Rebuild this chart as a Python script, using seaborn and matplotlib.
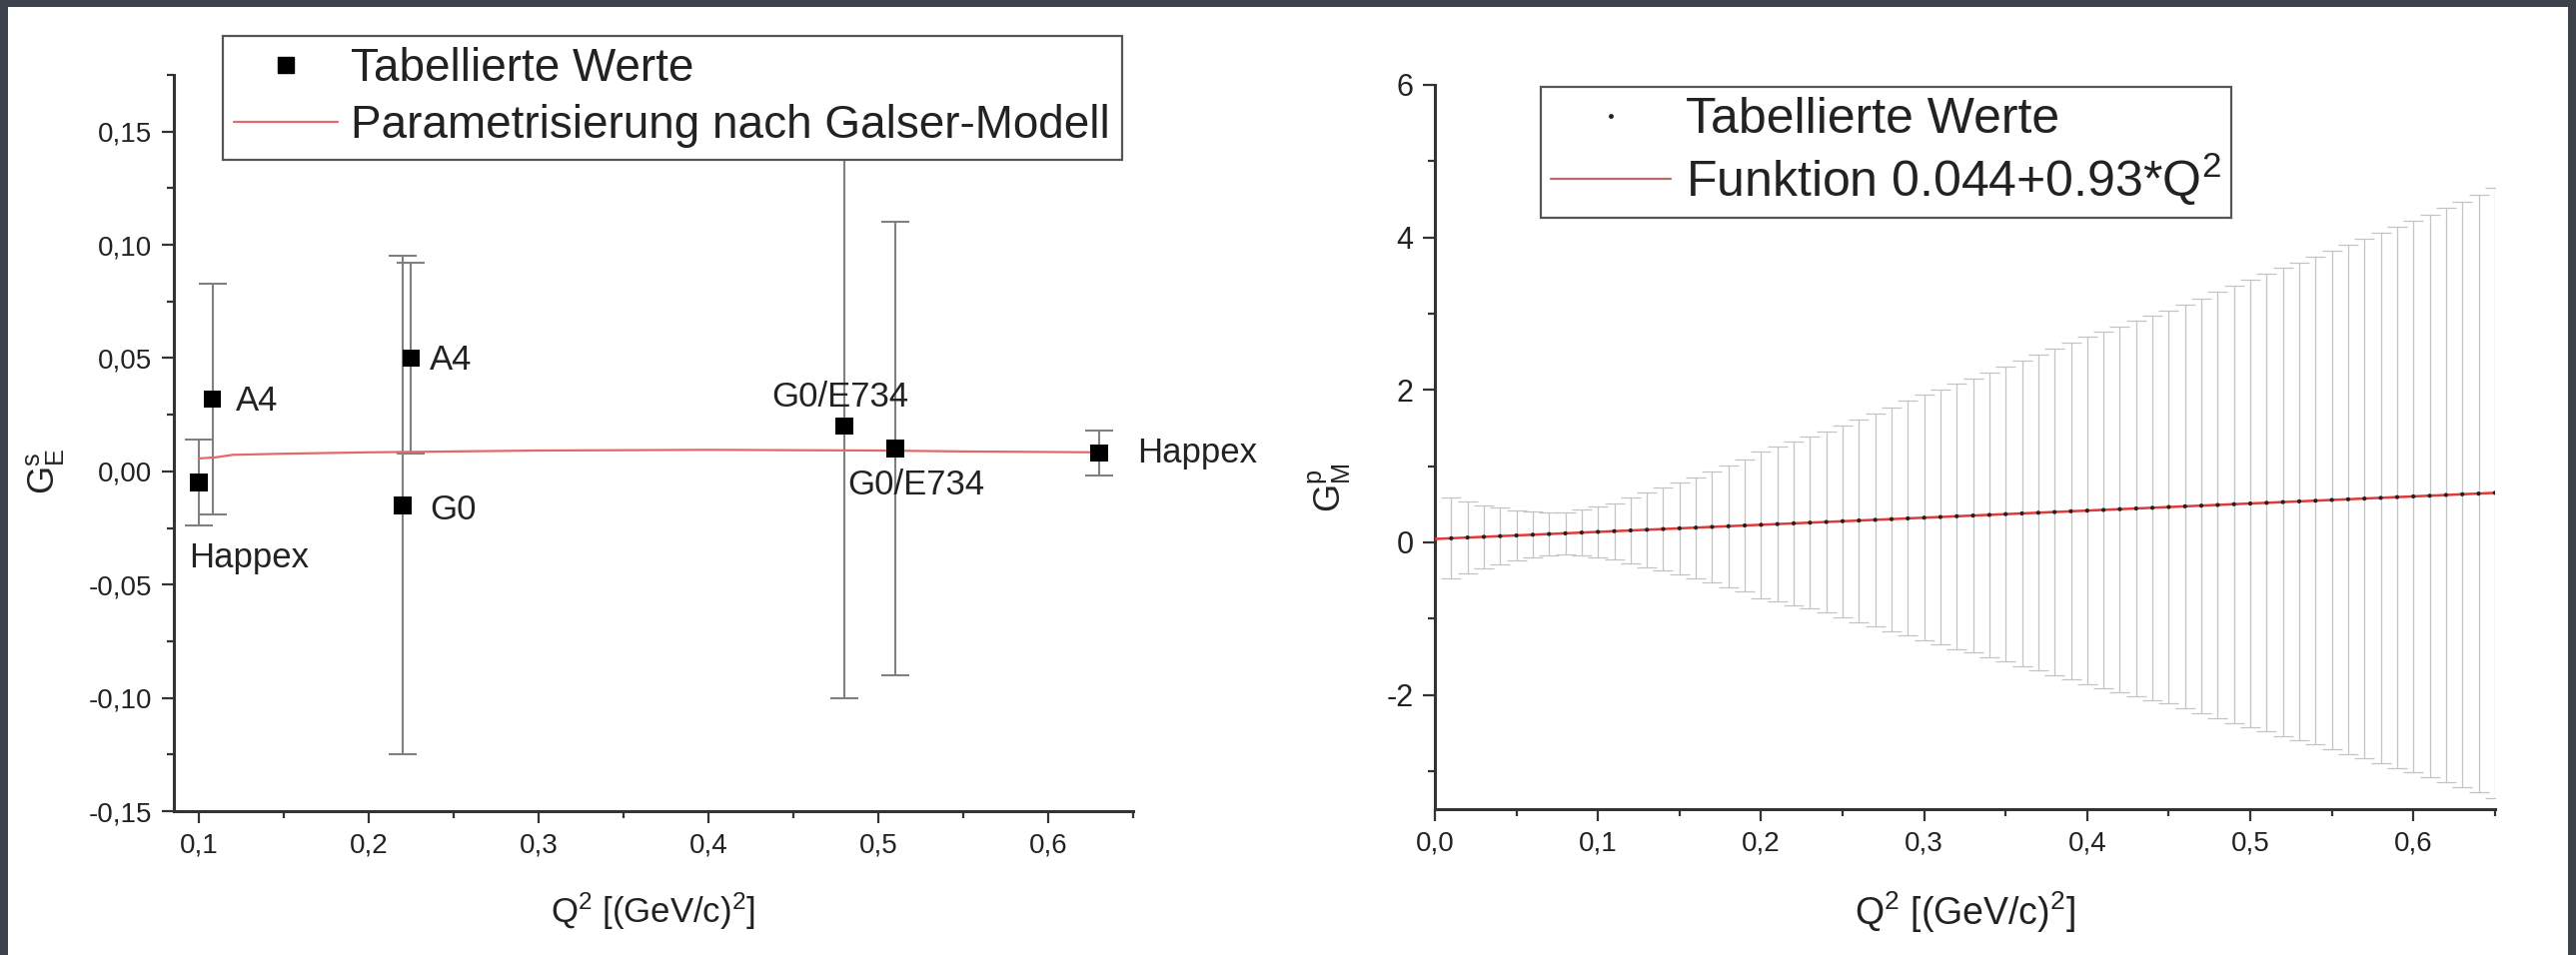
import matplotlib
matplotlib.use("Agg")
import matplotlib.pyplot as plt
from matplotlib.lines import Line2D
from matplotlib.patches import Rectangle
from matplotlib.ticker import MultipleLocator, FuncFormatter
import seaborn as sns

# ---------------- left panel: strange electric form factor ----------------
ge_q2 = [0.100, 0.108, 0.220, 0.225, 0.480, 0.510, 0.630]
ge_val = [-0.005, 0.032, -0.015, 0.050, 0.020, 0.010, 0.008]
ge_err = [0.019, 0.051, 0.110, 0.042, 0.120, 0.100, 0.010]
ge_exp = ["Happex", "A4", "G0", "A4", "G0/E734", "G0/E734", "Happex"]
ge_lab_x = [0.094, 0.122, 0.236, 0.236, 0.437, 0.482, 0.6525]
ge_lab_y = [-0.038, 0.031, -0.017, 0.049, 0.033, -0.006, 0.0083]

galser_q2 = [0.10, 0.11, 0.12, 0.15, 0.20, 0.30, 0.40, 0.50, 0.55, 0.63]
galser_val = [0.0057, 0.0062, 0.0073, 0.0078, 0.0084, 0.0092, 0.0095, 0.0092, 0.0088, 0.0084]

# ---------------- right panel: magnetic form factor ----------------
gm_q2 = [0.01, 0.02, 0.03, 0.04, 0.05, 0.06, 0.07, 0.08, 0.09, 0.10,
         0.11, 0.12, 0.13, 0.14, 0.15, 0.16, 0.17, 0.18, 0.19, 0.20,
         0.21, 0.22, 0.23, 0.24, 0.25, 0.26, 0.27, 0.28, 0.29, 0.30,
         0.31, 0.32, 0.33, 0.34, 0.35, 0.36, 0.37, 0.38, 0.39, 0.40,
         0.41, 0.42, 0.43, 0.44, 0.45, 0.46, 0.47, 0.48, 0.49, 0.50,
         0.51, 0.52, 0.53, 0.54, 0.55, 0.56, 0.57, 0.58, 0.59, 0.60,
         0.61, 0.62, 0.63, 0.64, 0.65]
gm_val = [0.053, 0.063, 0.072, 0.081, 0.090, 0.100, 0.109, 0.118, 0.128, 0.137,
          0.146, 0.156, 0.165, 0.174, 0.184, 0.193, 0.202, 0.211, 0.221, 0.230,
          0.239, 0.249, 0.258, 0.267, 0.277, 0.286, 0.295, 0.304, 0.314, 0.323,
          0.332, 0.342, 0.351, 0.360, 0.370, 0.379, 0.388, 0.397, 0.407, 0.416,
          0.425, 0.435, 0.444, 0.453, 0.463, 0.472, 0.481, 0.490, 0.500, 0.509,
          0.518, 0.528, 0.537, 0.546, 0.556, 0.565, 0.574, 0.583, 0.593, 0.602,
          0.611, 0.621, 0.630, 0.639, 0.649]
gm_err = [0.53, 0.47, 0.41, 0.37, 0.33, 0.30, 0.28, 0.28, 0.30, 0.33,
          0.37, 0.43, 0.49, 0.54, 0.60, 0.66, 0.73, 0.80, 0.87, 0.96,
          1.02, 1.07, 1.13, 1.19, 1.26, 1.33, 1.40, 1.47, 1.54, 1.61,
          1.67, 1.74, 1.80, 1.87, 1.93, 2.00, 2.07, 2.14, 2.21, 2.28,
          2.34, 2.40, 2.46, 2.52, 2.58, 2.65, 2.72, 2.80, 2.87, 2.94,
          3.00, 3.07, 3.13, 3.20, 3.27, 3.34, 3.41, 3.48, 3.55, 3.62,
          3.69, 3.77, 3.84, 3.92, 4.00]
fit_q2 = [0.0, 0.65]
fit_val = [0.044, 0.649]

# ---------------- style ----------------
sns.set_theme(style="ticks")
FONT = ["Liberation Sans", "DejaVu Sans"]
plt.rcParams["font.family"] = FONT
plt.rcParams["mathtext.fontset"] = "custom"
plt.rcParams["mathtext.rm"] = "Liberation Sans"
plt.rcParams["mathtext.it"] = "Liberation Sans"
plt.rcParams["mathtext.default"] = "regular"

AX_COL = "#333333"
TXT_COL = "#222222"

fig = plt.figure(figsize=(25.78, 9.56), dpi=100)
fig.patch.set_facecolor("#3e424a")
# white slide area inside the dark frame
fig.patches.append(Rectangle((8 / 2578, 0), (2570 - 8) / 2578, (956 - 7) / 956,
                             transform=fig.transFigure, facecolor="white",
                             edgecolor="none", zorder=-10))

ax1 = fig.add_axes([173.5 / 2578, 1 - 812 / 956, (1134 - 173.5) / 2578, (812 - 75) / 956])
ax2 = fig.add_axes([1436 / 2578, 1 - 810 / 956, (2497 - 1436) / 2578, (810 - 85) / 956])
for a in (ax1, ax2):
    a.set_zorder(1)
    a.patch.set_alpha(0)


def comma(fmt):
    def f(v, _):
        if abs(v) < 1e-9:
            v = 0.0
        return format(v, fmt).replace(".", ",")
    return FuncFormatter(f)


def style_axes(ax, tick_size_x, tick_size_y):
    for side in ("top", "right"):
        ax.spines[side].set_visible(False)
    for side in ("left", "bottom"):
        ax.spines[side].set_linewidth(2.2)
        ax.spines[side].set_color(AX_COL)
    ax.tick_params(which="major", direction="out", length=8.5, width=1.6,
                   color=AX_COL, labelcolor=TXT_COL, pad=7)
    ax.tick_params(which="minor", direction="out", length=5, width=1.6, color=AX_COL)
    ax.tick_params(axis="x", labelsize=tick_size_x)
    ax.tick_params(axis="y", labelsize=tick_size_y)
    ax.grid(False)


# ---------------- left panel ----------------
ax1.errorbar(ge_q2, ge_val, yerr=ge_err, fmt="none", ecolor="#808080",
             elinewidth=1.5, capsize=10, capthick=1.5, zorder=2)
sns.lineplot(x=galser_q2, y=galser_val, ax=ax1, color="#e36a6a", linewidth=1.6,
             estimator=None, sort=False, zorder=3)
sns.scatterplot(x=ge_q2, y=ge_val, ax=ax1, marker="s", color="black", s=160,
                edgecolor="none", linewidth=0, zorder=4)
for name, tx, ty in zip(ge_exp, ge_lab_x, ge_lab_y):
    ax1.text(tx, ty, name, fontsize=25, color=TXT_COL, ha="left", va="center",
             clip_on=False)

ax1.set_xlim(0.085, 0.6501)
ax1.set_ylim(-0.15, 0.17501)
ax1.xaxis.set_major_locator(MultipleLocator(0.1))
ax1.xaxis.set_minor_locator(MultipleLocator(0.05))
ax1.yaxis.set_major_locator(MultipleLocator(0.05))
ax1.yaxis.set_minor_locator(MultipleLocator(0.025))
ax1.xaxis.set_major_formatter(comma(".1f"))
ax1.yaxis.set_major_formatter(comma(".2f"))
style_axes(ax1, 20, 20)
ax1.set_xlabel("Q$^2$ [(GeV/c)$^2$]", fontsize=25, color=TXT_COL, va="center")
ax1.set_ylabel("G$^s_E$", fontsize=26, color=TXT_COL, va="center")
ax1.xaxis.set_label_coords(0.5, -0.136)
ax1.yaxis.set_label_coords(-0.134, 0.461)

h1 = [Line2D([], [], marker="s", color="black", linestyle="none", markersize=11),
      Line2D([], [], color="#e36a6a", linewidth=1.6)]
leg1 = fig.legend(h1, ["Tabellierte Werte", "Parametrisierung nach Galser-Modell"],
                  loc="upper left", bbox_to_anchor=(223 / 2578, 1 - 36 / 956),
                  fontsize=33, frameon=True, fancybox=False, framealpha=1,
                  edgecolor="#555555", borderpad=0.25, labelspacing=0.28,
                  handlelength=2.25, handletextpad=0.3, borderaxespad=0)
leg1.get_frame().set_linewidth(1.6)
leg1.set_zorder(5)
for t in leg1.get_texts():
    t.set_color(TXT_COL)

# ---------------- right panel ----------------
ax2.errorbar(gm_q2, gm_val, yerr=gm_err, fmt="none", ecolor="#c4c4c4",
             elinewidth=0.9, capsize=7, capthick=0.9, zorder=2)
sns.lineplot(x=fit_q2, y=fit_val, ax=ax2, color="#e03a3a", linewidth=1.8,
             estimator=None, sort=False, zorder=3)
sns.scatterplot(x=gm_q2, y=gm_val, ax=ax2, marker="o", color="#222222", s=9,
                edgecolor="none", linewidth=0, zorder=4)

ax2.set_xlim(0.0, 0.6501)
ax2.set_ylim(-3.5, 6.0)
ax2.xaxis.set_major_locator(MultipleLocator(0.1))
ax2.xaxis.set_minor_locator(MultipleLocator(0.05))
ax2.yaxis.set_major_locator(MultipleLocator(2))
ax2.yaxis.set_minor_locator(MultipleLocator(1))
ax2.xaxis.set_major_formatter(comma(".1f"))
ax2.yaxis.set_major_formatter(comma(".0f"))
style_axes(ax2, 20, 22)
ax2.set_xlabel("Q$^2$ [(GeV/c)$^2$]", fontsize=27, color=TXT_COL, va="center")
ax2.set_ylabel("G$^p_M$", fontsize=26, color=TXT_COL, va="center")
ax2.xaxis.set_label_coords(0.5, -0.142)
ax2.yaxis.set_label_coords(-0.099, 0.444)

h2 = [Line2D([], [], marker="o", color="#222222", linestyle="none", markersize=2.5),
      Line2D([], [], color="#b86a6a", linewidth=1.6)]
leg2 = fig.legend(h2, ["Tabellierte Werte", "Funktion 0.044+0.93*Q$^2$"],
                  loc="upper left", bbox_to_anchor=(1542 / 2578, 1 - 87 / 956),
                  fontsize=36, frameon=True, fancybox=False, framealpha=1,
                  edgecolor="#555555", borderpad=0.2, labelspacing=0.15,
                  handlelength=2.4, handletextpad=0.3, borderaxespad=0)
leg2.get_frame().set_linewidth(1.6)
leg2.set_zorder(5)
for t in leg2.get_texts():
    t.set_color(TXT_COL)

fig.savefig("out.png", dpi=100, facecolor=fig.get_facecolor())
